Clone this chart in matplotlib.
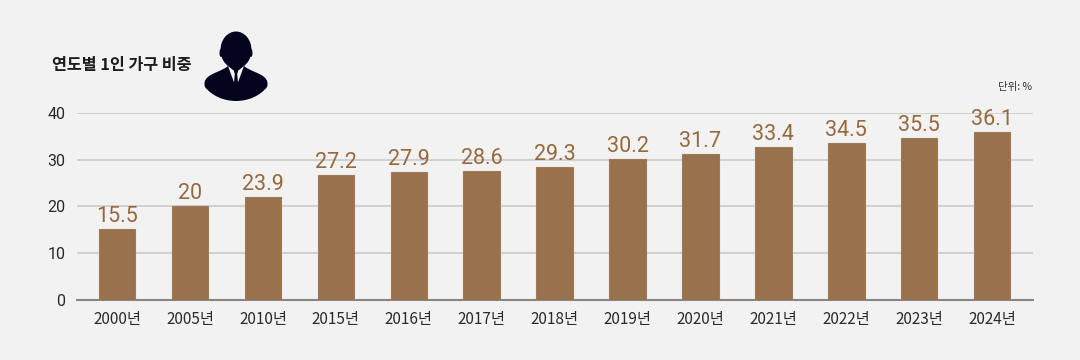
import matplotlib
matplotlib.use('Agg')
import matplotlib.pyplot as plt
from matplotlib.path import Path
from matplotlib.patches import Ellipse, Polygon, PathPatch

years = ['2000년', '2005년', '2010년', '2015년', '2016년', '2017년', '2018년',
         '2019년', '2020년', '2021년', '2022년', '2023년', '2024년']
# bars in the picture are a bit off from their printed labels, so both are kept
bar_heights = [15.1, 20.0, 22.0, 26.7, 27.3, 27.6, 28.4, 30.1, 31.2, 32.7, 33.6, 34.7, 35.9]
bar_labels = ['15.5', '20', '23.9', '27.2', '27.9', '28.6', '29.3',
              '30.2', '31.7', '33.4', '34.5', '35.5', '36.1']
yticks = [0, 10, 20, 30, 40]

plt.rcParams['font.family'] = ['Noto Sans CJK KR', 'DejaVu Sans']

W, H = 1080, 360
bg = '#f2f2f2'
fig = plt.figure(figsize=(W / 100, H / 100), dpi=100, facecolor=bg)

left, right, top, bottom = 77, 1033, 113, 299.5
ax = fig.add_axes([left / W, 1 - bottom / H, (right - left) / W, (bottom - top) / H])
ax.set_facecolor(bg)

xs = list(range(len(years)))
ax.bar(xs, bar_heights, width=0.5, color='#98714d', edgecolor='#a07a55', linewidth=0.8, zorder=3)

for x, h, lab in zip(xs, bar_heights, bar_labels):
    ax.text(x, h + 0.4, lab, ha='center', va='bottom', fontsize=15.5, color='#96693c',
            family='Roboto', zorder=4)

ax.set_xlim(-0.55, 12.56)
ax.set_ylim(0, 40)
ax.set_yticks(yticks)
ax.set_xticks(xs)
ax.set_xticklabels(years, fontsize=11, color='#2a2a2a')
ax.tick_params(axis='both', length=0)
ax.tick_params(axis='x', pad=8)
ax.tick_params(axis='y', pad=8.5, labelsize=11.5, labelcolor='#2a2a2a')
for lab in ax.get_yticklabels():
    lab.set_family('Roboto')
ax.grid(axis='y', color='#c8c8c8', linewidth=1.1, zorder=0)
ax.set_axisbelow(True)
for s in ['top', 'right', 'left']:
    ax.spines[s].set_visible(False)
ax.spines['bottom'].set_color('#8a8580')
ax.spines['bottom'].set_linewidth(1.5)

fig.text(52 / W, 1 - 65 / H, '연도별 1인 가구 비중', fontsize=11.7, fontweight='bold',
         color='#1c1c1c', ha='left', va='center')
fig.text(1032 / W, 1 - 87 / H, '단위: %', fontsize=7.5, color='#333333', ha='right', va='center')

# person icon, drawn in pixel coordinates on an overlay
ov = fig.add_axes([0, 0, 1, 1], facecolor='none')
ov.set_xlim(0, W)
ov.set_ylim(H, 0)
ov.axis('off')
navy = '#03051e'
C = Path.CURVE4
body = Path([(228, 66), (222, 71), (212, 73), (208, 77),
             (204, 80), (204, 84), (205, 87),
             (212, 96), (224, 101), (236, 101),
             (248, 101), (260, 96), (267, 87),
             (268, 84), (268, 80), (264, 77),
             (260, 73), (250, 71), (244, 66),
             (228, 66)],
            [Path.MOVETO, C, C, C, C, C, C, C, C, C, C, C, C, C, C, C, C, C, C, Path.CLOSEPOLY])
ov.add_patch(PathPatch(body, fc=navy, ec='none'))
ov.add_patch(Ellipse((236, 50), 31, 37, fc=navy, ec='none'))
ov.add_patch(Ellipse((221, 53), 3, 8, fc=navy, ec='none'))
ov.add_patch(Ellipse((251, 53), 3, 8, fc=navy, ec='none'))
ov.add_patch(Polygon([[226, 60], [246, 60], [243, 70], [229, 70]], closed=True, fc=navy, ec='none'))
# shirt and tie
ov.add_patch(Polygon([[228, 66], [233, 70], [239, 70], [244, 66], [237, 85], [235, 85]],
                     closed=True, fc=bg, ec='none'))
ov.add_patch(Polygon([[233.5, 70], [238.5, 70], [237.2, 74], [238.2, 85], [233.8, 85], [234.8, 74]],
                     closed=True, fc=navy, ec='none'))

fig.savefig('out.png', dpi=100, facecolor=bg)
